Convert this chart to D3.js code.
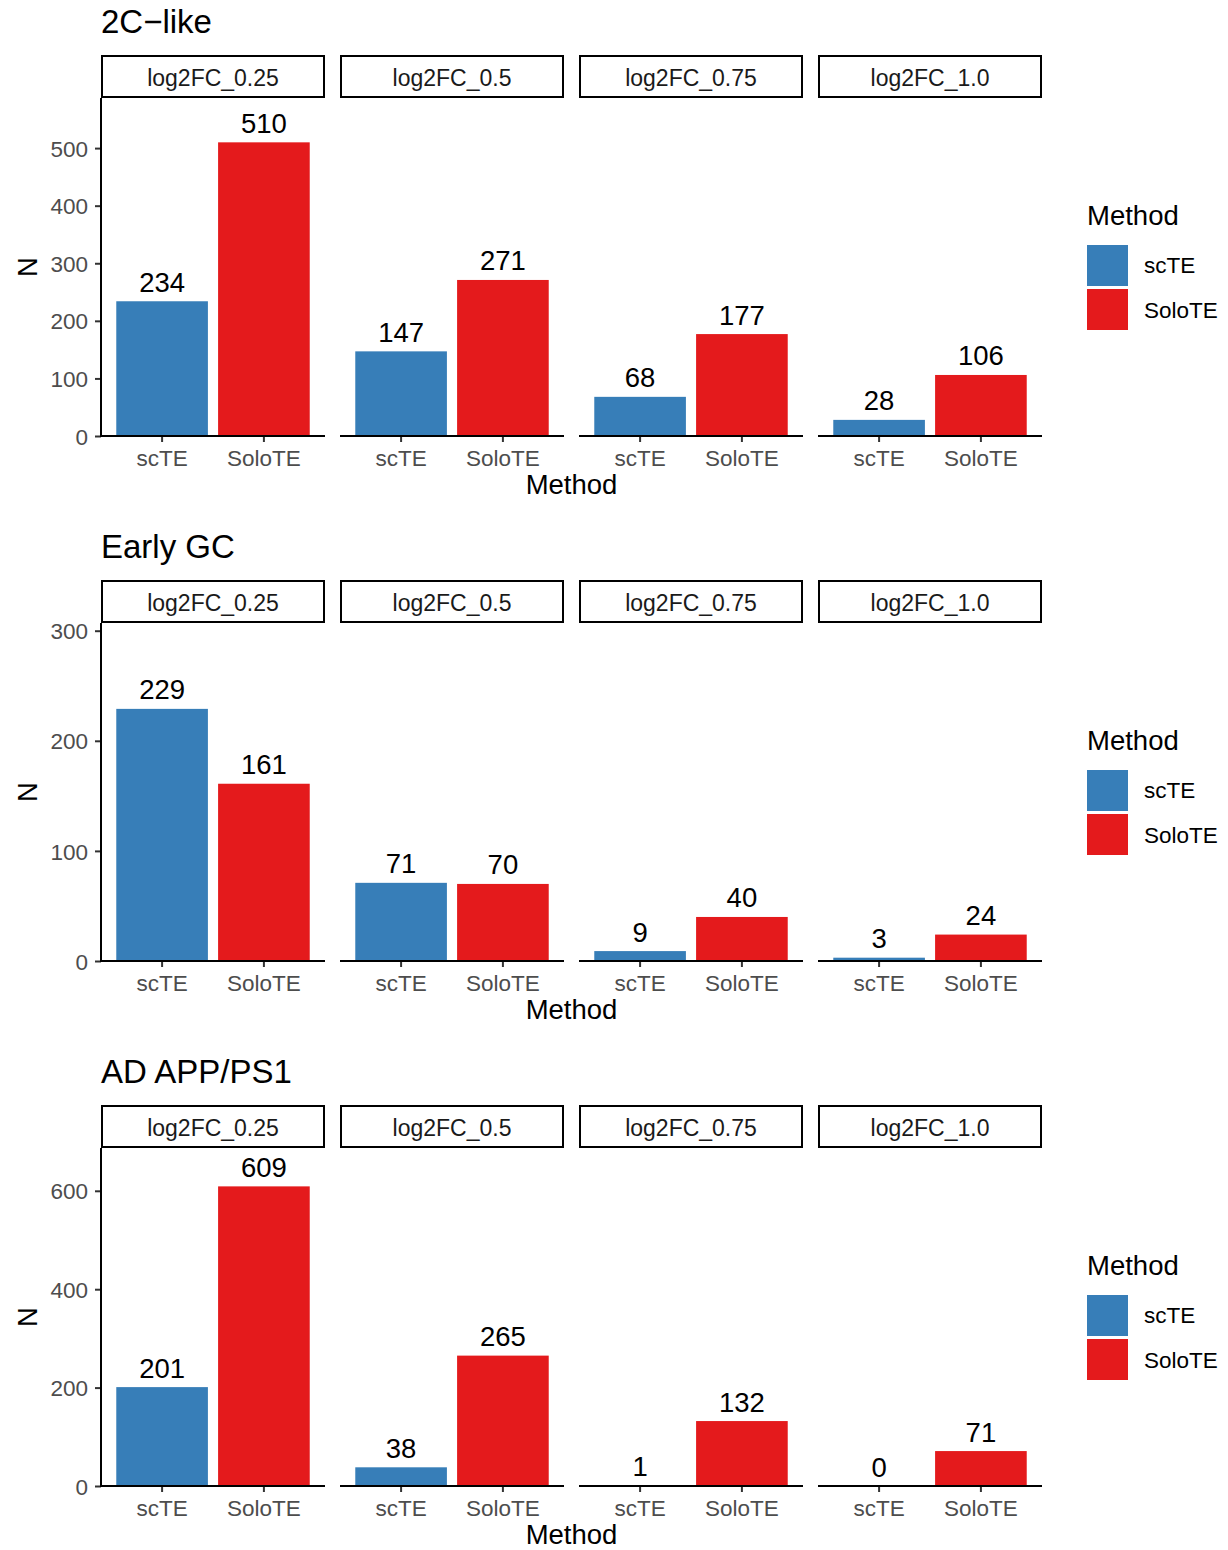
<!DOCTYPE html>
<html>
<head>
<meta charset="utf-8">
<script src="https://cdn.jsdelivr.net/npm/d3@7"></script>
<style>
  body { margin: 0; background: #fff; }
  text { font-family: "Liberation Sans", Arial, Helvetica, sans-serif; }
</style>
</head>
<body>
<svg id="chart" width="1228" height="1550"></svg>
<script>
// data
let sectionTitles = ["2C\u2212like", "Early GC", "AD APP/PS1"];
let facets = ["log2FC_0.25", "log2FC_0.5", "log2FC_0.75", "log2FC_1.0"];
let methods = ["scTE", "SoloTE"];
let scTECounts = [[234, 147, 68, 28], [229, 71, 9, 3], [201, 38, 1, 0]];
let soloTECounts = [[510, 271, 177, 106], [161, 70, 40, 24], [609, 265, 132, 71]];
let yTicks = [[0, 100, 200, 300, 400, 500], [0, 100, 200, 300], [0, 200, 400, 600]];
let yMax = [587, 307, 687]; // top of each panel's y range
let colors = {"scTE": "#377EB8", "SoloTE": "#E41A1C"};

let svg = d3.select("#chart");

let sectionHeight = 525;
let panelLeft = 101;
let panelWidth = 224;
let panelGap = 15;
let stripTop = 55;
let panelTop = 98;
let panelBottom = 436;

let x = d3.scaleBand()
  .domain(methods)
  .range([0, panelWidth])
  .paddingInner(0.1)
  .paddingOuter(0.15);

sectionTitles.forEach(function (title, s) {
  let off = s * sectionHeight;
  let g = svg.append("g").attr("transform", "translate(0," + off + ")");

  let y = d3.scaleLinear()
    .domain([0, yMax[s]])
    .range([panelBottom, panelTop]);

  // section title
  g.append("text")
    .attr("x", panelLeft)
    .attr("y", 33)
    .attr("font-size", 33)
    .attr("fill", "#000")
    .text(title);

  facets.forEach(function (facet, f) {
    let x0 = panelLeft + f * (panelWidth + panelGap);
    let fg = g.append("g").attr("transform", "translate(" + x0 + ",0)");
    let rows = methods.map(function (m) {
      return {method: m, n: m == "scTE" ? scTECounts[s][f] : soloTECounts[s][f]};
    });

    // strip
    fg.append("rect")
      .attr("x", 1)
      .attr("y", stripTop + 1)
      .attr("width", panelWidth - 2)
      .attr("height", panelTop - stripTop - 2)
      .attr("fill", "#fff")
      .attr("stroke", "#000")
      .attr("stroke-width", 2);
    fg.append("text")
      .attr("x", panelWidth / 2)
      .attr("y", 86)
      .attr("text-anchor", "middle")
      .attr("font-size", 23)
      .attr("fill", "#1a1a1a")
      .text(facet);

    // bars
    fg.selectAll(".bar")
      .data(rows)
      .enter()
      .append("rect")
      .attr("class", "bar")
      .attr("x", function (d) { return x(d.method); })
      .attr("width", x.bandwidth())
      .attr("y", function (d) { return y(d.n); })
      .attr("height", function (d) { return panelBottom - y(d.n); })
      .attr("fill", function (d) { return colors[d.method]; });

    // value labels
    fg.selectAll(".lab")
      .data(rows)
      .enter()
      .append("text")
      .attr("class", "lab")
      .attr("x", function (d) { return x(d.method) + x.bandwidth() / 2; })
      .attr("y", function (d) { return y(d.n) - 9.5; })
      .attr("text-anchor", "middle")
      .attr("font-size", 27.5)
      .attr("fill", "#000")
      .text(function (d) { return d.n; });

    // x axis
    let xAxis = d3.axisBottom(x).tickSize(6).tickPadding(5);
    let ax = fg.append("g")
      .attr("transform", "translate(0," + panelBottom + ")")
      .call(xAxis);
    ax.select(".domain").remove();
    ax.append("line")
      .attr("x1", 0).attr("x2", panelWidth)
      .attr("stroke", "#000").attr("stroke-width", 2);
    ax.selectAll(".tick line").attr("stroke", "#333").attr("stroke-width", 2);
    ax.selectAll(".tick text")
      .attr("font-size", 22.5)
      .attr("fill", "#4D4D4D")
      .attr("dy", null)
      .attr("y", 30);

    // y axis only on first facet
    if (f == 0) {
      let yAxis = d3.axisLeft(y).tickValues(yTicks[s]).tickSize(6).tickPadding(7);
      let ay = fg.append("g").call(yAxis);
      ay.select(".domain").remove();
      ay.append("line")
        .attr("y1", panelTop).attr("y2", panelBottom + 1)
        .attr("stroke", "#000").attr("stroke-width", 2);
      ay.selectAll(".tick line").attr("stroke", "#333").attr("stroke-width", 2);
      ay.selectAll(".tick text")
        .attr("font-size", 22.5)
        .attr("fill", "#4D4D4D")
        .attr("dy", "0.36em");
    }
  });

  // axis titles
  let lastRight = panelLeft + facets.length * panelWidth + (facets.length - 1) * panelGap;
  g.append("text")
    .attr("x", (panelLeft + lastRight) / 2)
    .attr("y", 494)
    .attr("text-anchor", "middle")
    .attr("font-size", 27.5)
    .text("Method");
  g.append("text")
    .attr("transform", "translate(37," + ((panelTop + panelBottom) / 2) + ") rotate(-90)")
    .attr("text-anchor", "middle")
    .attr("font-size", 27.5)
    .text("N");

  // legend
  let lg = g.append("g").attr("transform", "translate(1087,0)");
  lg.append("text")
    .attr("x", 0)
    .attr("y", 225)
    .attr("font-size", 27.5)
    .text("Method");
  lg.selectAll(".key")
    .data(methods)
    .enter()
    .append("rect")
    .attr("class", "key")
    .attr("x", 0)
    .attr("y", function (d, i) { return 245 + i * 44; })
    .attr("width", 41)
    .attr("height", 41)
    .attr("fill", function (d) { return colors[d]; });
  lg.selectAll(".keylab")
    .data(methods)
    .enter()
    .append("text")
    .attr("class", "keylab")
    .attr("x", 57)
    .attr("y", function (d, i) { return 273 + i * 45; })
    .attr("font-size", 22.5)
    .text(function (d) { return d; });
});
</script>
</body>
</html>
